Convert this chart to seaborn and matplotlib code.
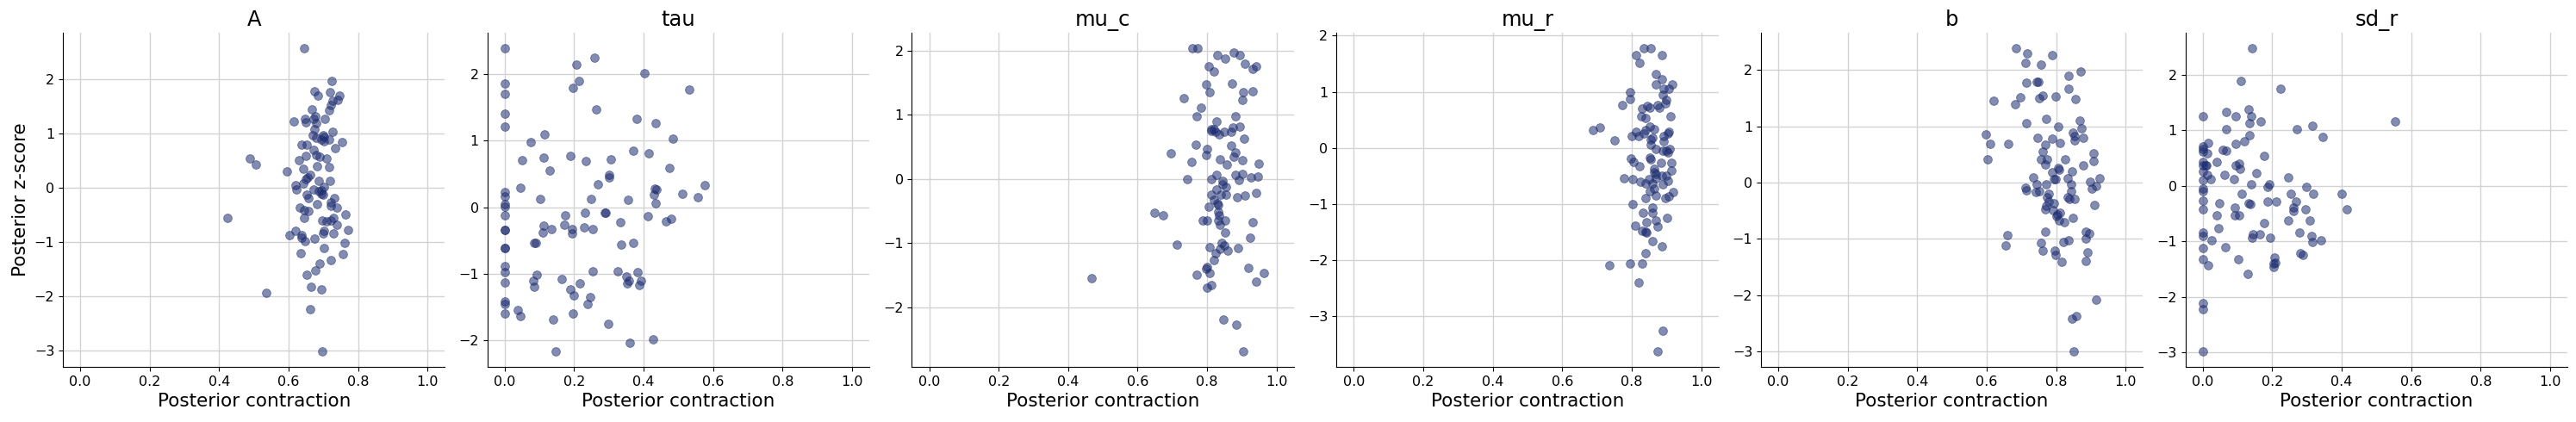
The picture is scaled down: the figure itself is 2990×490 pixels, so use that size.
import matplotlib
matplotlib.use("Agg")
import matplotlib.pyplot as plt
import seaborn as sns
import pandas as pd

# Parameter names (one panel each)
params = ["A", "tau", "mu_c", "mu_r", "b", "sd_r"]

# Posterior contraction / z-score, one pair of lists per parameter
A_contraction = [
    0.645, 0.724, 0.674, 0.684, 0.719, 0.746, 0.742, 0.726, 0.721, 0.667,
    0.716, 0.646, 0.678, 0.671, 0.703, 0.615, 0.650, 0.679, 0.674, 0.726,
    0.669, 0.698, 0.702, 0.679, 0.693, 0.717, 0.701, 0.753, 0.636, 0.653,
    0.672, 0.733, 0.680, 0.650, 0.688, 0.708, 0.488, 0.506, 0.630, 0.682,
    0.717, 0.642, 0.594, 0.662, 0.655, 0.650, 0.686, 0.719, 0.642, 0.620,
    0.702, 0.623, 0.673, 0.687, 0.693, 0.695, 0.698, 0.652, 0.658, 0.731,
    0.721, 0.682, 0.722, 0.633, 0.739, 0.644, 0.657, 0.764, 0.645, 0.729,
    0.424, 0.697, 0.708, 0.721, 0.740, 0.771, 0.620, 0.702, 0.602, 0.637,
    0.698, 0.729, 0.636, 0.675, 0.647, 0.761, 0.702, 0.635, 0.756, 0.721,
    0.689, 0.677, 0.652, 0.664, 0.695, 0.536, 0.662, 0.697,
]
A_zscore = [
    2.57, 1.96, 1.77, 1.69, 1.76, 1.69, 1.61, 1.59, 1.52, 1.44,
    1.42, 1.27, 1.32, 1.27, 1.27, 1.21, 1.20, 1.18, 1.08, 1.02,
    0.96, 0.97, 0.94, 0.91, 0.89, 0.89, 0.85, 0.84, 0.79, 0.79,
    0.69, 0.72, 0.60, 0.59, 0.56, 0.54, 0.54, 0.43, 0.51, 0.40,
    0.37, 0.34, 0.30, 0.24, 0.19, 0.16, 0.13, 0.12, 0.08, 0.05,
    0.02, -0.03, -0.04, -0.06, -0.05, -0.11, -0.13, -0.13, -0.20, -0.20,
    -0.28, -0.31, -0.33, -0.37, -0.37, -0.42, -0.43, -0.49, -0.55, -0.55,
    -0.55, -0.61, -0.62, -0.61, -0.69, -0.78, -0.79, -0.80, -0.87, -0.87,
    -0.85, -0.85, -0.92, -0.94, -0.98, -1.02, -1.12, -1.20, -1.22, -1.34,
    -1.40, -1.53, -1.61, -1.82, -1.88, -1.93, -2.24, -3.02,
]

tau_contraction = [
    0.0, 0.0, 0.0, 0.0, 0.0, 0.0, 0.0, 0.0, 0.0, 0.0,
    0.0, 0.0, 0.0, 0.0, 0.0, 0.0, 0.0, 0.0, 0.0, 0.0,
    0.259, 0.206, 0.402, 0.214, 0.197, 0.532, 0.264, 0.381, 0.435, 0.114,
    0.483, 0.075, 0.371, 0.415, 0.189, 0.112, 0.050, 0.234, 0.306, 0.475,
    0.129, 0.301, 0.301, 0.575, 0.269, 0.045, 0.433, 0.438, 0.512, 0.430,
    0.555, 0.102, 0.249, 0.356, 0.435, 0.231, 0.288, 0.291, 0.174, 0.411,
    0.479, 0.463, 0.333, 0.172, 0.112, 0.229, 0.135, 0.194, 0.254, 0.109,
    0.194, 0.085, 0.090, 0.371, 0.336, 0.254, 0.326, 0.383, 0.092, 0.351,
    0.164, 0.393, 0.082, 0.358, 0.353, 0.216, 0.388, 0.085, 0.189, 0.199,
    0.246, 0.239, 0.037, 0.045, 0.197, 0.139, 0.299, 0.428, 0.361, 0.147,
]
tau_zscore = [
    2.39, 1.85, 1.70, 1.40, 1.21, 0.23, 0.16, 0.04, 0.01, -0.12,
    -0.34, -0.34, -0.62, -0.62, -0.89, -0.98, -1.13, -1.42, -1.45, -1.59,
    2.24, 2.14, 2.01, 1.89, 1.79, 1.76, 1.47, 1.32, 1.26, 1.09,
    1.03, 0.98, 0.85, 0.81, 0.77, 0.74, 0.71, 0.69, 0.72, 0.59,
    0.55, 0.49, 0.45, 0.33, 0.34, 0.29, 0.28, 0.27, 0.20, 0.19,
    0.15, 0.12, 0.12, 0.11, 0.06, -0.09, -0.09, -0.09, -0.12, -0.14,
    -0.18, -0.21, -0.22, -0.27, -0.28, -0.30, -0.33, -0.33, -0.33, -0.38,
    -0.40, -0.54, -0.53, -0.53, -0.56, -0.96, -0.96, -0.98, -1.02, -1.04,
    -1.08, -1.10, -1.11, -1.11, -1.14, -1.14, -1.17, -1.19, -1.24, -1.33,
    -1.35, -1.46, -1.55, -1.63, -1.59, -1.69, -1.75, -1.99, -2.04, -2.17,
]

mu_c_contraction = [
    0.757, 0.772, 0.830, 0.876, 0.893, 0.851, 0.908, 0.804, 0.941, 0.930,
    0.819, 0.797, 0.872, 0.806, 0.903, 0.930, 0.901, 0.733, 0.782, 0.881,
    0.769, 0.827, 0.894, 0.873, 0.813, 0.819, 0.811, 0.825, 0.849, 0.869,
    0.834, 0.906, 0.767, 0.868, 0.799, 0.696, 0.881, 0.797, 0.876, 0.836,
    0.901, 0.755, 0.856, 0.948, 0.827, 0.882, 0.902, 0.945, 0.927, 0.742,
    0.813, 0.845, 0.891, 0.844, 0.854, 0.826, 0.940, 0.813, 0.854, 0.839,
    0.887, 0.910, 0.819, 0.829, 0.831, 0.804, 0.648, 0.831, 0.672, 0.835,
    0.787, 0.799, 0.831, 0.851, 0.932, 0.836, 0.851, 0.923, 0.841, 0.714,
    0.849, 0.806, 0.888, 0.836, 0.859, 0.824, 0.819, 0.918, 0.799, 0.797,
    0.806, 0.769, 0.963, 0.467, 0.940, 0.811, 0.799, 0.846, 0.883, 0.903,
]
mu_c_zscore = [
    2.04, 2.04, 1.93, 1.97, 1.93, 1.88, 1.79, 1.75, 1.75, 1.71,
    1.67, 1.47, 1.49, 1.35, 1.35, 1.37, 1.23, 1.26, 1.11, 0.98,
    0.97, 0.90, 0.81, 0.80, 0.77, 0.78, 0.75, 0.73, 0.74, 0.74,
    0.69, 0.63, 0.54, 0.52, 0.46, 0.40, 0.41, 0.37, 0.35, 0.31,
    0.29, 0.27, 0.23, 0.24, 0.06, 0.07, 0.08, 0.04, 0.02, 0.00,
    0.00, -0.03, -0.01, -0.08, -0.13, -0.16, -0.22, -0.24, -0.24, -0.25,
    -0.28, -0.26, -0.33, -0.38, -0.40, -0.43, -0.52, -0.51, -0.56, -0.57,
    -0.65, -0.65, -0.64, -0.64, -0.68, -0.72, -0.83, -0.92, -0.99, -1.02,
    -1.03, -1.06, -1.07, -1.09, -1.11, -1.15, -1.27, -1.39, -1.37, -1.40,
    -1.46, -1.49, -1.46, -1.54, -1.60, -1.65, -1.69, -2.19, -2.27, -2.69,
]

mu_r_contraction = [
    0.834, 0.855, 0.812, 0.887, 0.822, 0.869, 0.887, 0.869, 0.916, 0.892,
    0.906, 0.795, 0.889, 0.795, 0.899, 0.897, 0.772, 0.874, 0.844, 0.852,
    0.829, 0.879, 0.827, 0.839, 0.911, 0.709, 0.688, 0.852, 0.864, 0.839,
    0.812, 0.906, 0.836, 0.904, 0.800, 0.820, 0.892, 0.861, 0.856, 0.750,
    0.892, 0.856, 0.869, 0.889, 0.899, 0.909, 0.904, 0.797, 0.852, 0.856,
    0.884, 0.806, 0.914, 0.822, 0.914, 0.866, 0.864, 0.871, 0.887, 0.899,
    0.777, 0.802, 0.849, 0.869, 0.825, 0.904, 0.839, 0.861, 0.889, 0.866,
    0.852, 0.920, 0.869, 0.897, 0.908, 0.839, 0.804, 0.861, 0.832, 0.861,
    0.901, 0.869, 0.842, 0.810, 0.874, 0.829, 0.839, 0.842, 0.861, 0.887,
    0.839, 0.795, 0.829, 0.735, 0.820, 0.889, 0.874,
]
mu_r_zscore = [
    1.78, 1.78, 1.65, 1.65, 1.51, 1.31, 1.23, 1.13, 1.13, 1.06,
    1.05, 1.00, 0.94, 0.87, 0.86, 0.79, 0.77, 0.77, 0.75, 0.71,
    0.70, 0.71, 0.57, 0.54, 0.56, 0.37, 0.32, 0.38, 0.34, 0.32,
    0.28, 0.28, 0.25, 0.25, 0.21, 0.21, 0.21, 0.18, 0.15, 0.14,
    0.12, 0.05, -0.02, -0.05, -0.05, -0.02, -0.08, -0.19, -0.17, -0.21,
    -0.26, -0.25, -0.26, -0.32, -0.40, -0.38, -0.43, -0.46, -0.49, -0.50,
    -0.54, -0.55, -0.55, -0.54, -0.60, -0.58, -0.64, -0.64, -0.65, -0.72,
    -0.77, -0.78, -0.85, -0.89, -0.87, -0.90, -1.00, -1.06, -1.15, -1.15,
    -1.24, -1.30, -1.33, -1.38, -1.40, -1.47, -1.49, -1.51, -1.66, -1.76,
    -1.87, -2.06, -2.06, -2.09, -2.39, -3.25, -3.63,
]

b_contraction = [
    0.685, 0.717, 0.789, 0.712, 0.757, 0.871, 0.836, 0.715, 0.744, 0.749,
    0.836, 0.697, 0.762, 0.752, 0.799, 0.856, 0.620, 0.682, 0.772, 0.868,
    0.715, 0.806, 0.873, 0.598, 0.849, 0.854, 0.747, 0.789, 0.878, 0.854,
    0.610, 0.663, 0.811, 0.769, 0.908, 0.762, 0.603, 0.757, 0.774, 0.826,
    0.908, 0.769, 0.878, 0.806, 0.809, 0.846, 0.789, 0.734, 0.834, 0.794,
    0.799, 0.926, 0.898, 0.744, 0.772, 0.844, 0.916, 0.712, 0.715, 0.903,
    0.742, 0.752, 0.844, 0.779, 0.834, 0.774, 0.839, 0.854, 0.779, 0.794,
    0.911, 0.772, 0.769, 0.792, 0.811, 0.804, 0.801, 0.849, 0.809, 0.824,
    0.769, 0.886, 0.896, 0.660, 0.886, 0.836, 0.821, 0.757, 0.655, 0.762,
    0.797, 0.891, 0.799, 0.816, 0.886, 0.916, 0.859, 0.846, 0.851,
]
b_zscore = [
    2.39, 2.30, 2.26, 2.13, 2.10, 1.97, 1.89, 1.77, 1.79, 1.79,
    1.66, 1.51, 1.54, 1.50, 1.53, 1.48, 1.45, 1.39, 1.13, 1.10,
    1.05, 0.99, 0.96, 0.85, 0.89, 0.82, 0.79, 0.78, 0.79, 0.75,
    0.69, 0.69, 0.70, 0.67, 0.52, 0.55, 0.41, 0.41, 0.41, 0.41,
    0.38, 0.32, 0.31, 0.26, 0.23, 0.20, 0.18, 0.09, 0.08, 0.06,
    0.06, 0.08, 0.02, -0.03, -0.03, -0.03, -0.06, -0.09, -0.14, -0.11,
    -0.17, -0.15, -0.15, -0.20, -0.26, -0.26, -0.29, -0.29, -0.34, -0.37,
    -0.40, -0.41, -0.47, -0.49, -0.53, -0.56, -0.60, -0.63, -0.67, -0.70,
    -0.87, -0.87, -0.90, -0.93, -0.99, -1.02, -1.05, -1.07, -1.11, -1.21,
    -1.21, -1.24, -1.28, -1.40, -1.39, -2.08, -2.37, -2.41, -3.00,
]

sd_r_contraction = [
    0.142, 0.109, 0.224, 0.132, 0.067, 0.0, 0.094, 0.139, 0.166, 0.554,
    0.134, 0.315, 0.067, 0.271, 0.134, 0.345, 0.119, 0.015, 0.094, 0.0,
    0.0, 0.0, 0.057, 0.067, 0.012, 0.176, 0.040, 0.0, 0.0, 0.007,
    0.010, 0.104, 0.094, 0.107, 0.0, 0.012, 0.062, 0.154, 0.246, 0.022,
    0.0, 0.089, 0.139, 0.191, 0.186, 0.298, 0.0, 0.0, 0.253, 0.318,
    0.401, 0.112, 0.0, 0.268, 0.211, 0.186, 0.047, 0.132, 0.137, 0.261,
    0.415, 0.0, 0.092, 0.296, 0.261, 0.040, 0.092, 0.104, 0.246, 0.308,
    0.176, 0.045, 0.0, 0.278, 0.164, 0.144, 0.0, 0.142, 0.313, 0.194,
    0.025, 0.340, 0.315, 0.065, 0.0, 0.281, 0.288, 0.206, 0.0, 0.102,
    0.209, 0.204, 0.204, 0.015, 0.129, 0.0, 0.0, 0.0,
]
sd_r_zscore = [
    2.48, 1.89, 1.75, 1.38, 1.33, 1.25, 1.25, 1.25, 1.16, 1.15,
    1.13, 1.08, 1.01, 1.01, 0.91, 0.88, 0.80, 0.77, 0.76, 0.70,
    0.66, 0.62, 0.65, 0.63, 0.59, 0.54, 0.43, 0.42, 0.37, 0.36,
    0.36, 0.40, 0.36, 0.31, 0.25, 0.20, 0.20, 0.23, 0.15, 0.12,
    0.10, 0.11, 0.03, 0.03, -0.02, -0.02, -0.05, -0.10, -0.14, -0.15,
    -0.15, -0.15, -0.27, -0.28, -0.28, -0.29, -0.31, -0.31, -0.33, -0.39,
    -0.42, -0.43, -0.40, -0.43, -0.46, -0.54, -0.53, -0.53, -0.62, -0.63,
    -0.67, -0.76, -0.84, -0.85, -0.87, -0.88, -0.91, -0.93, -0.91, -0.94,
    -0.98, -0.98, -1.01, -1.10, -1.13, -1.22, -1.25, -1.30, -1.32, -1.33,
    -1.38, -1.41, -1.46, -1.44, -1.59, -2.12, -2.23, -2.99,
]

contraction = [A_contraction, tau_contraction, mu_c_contraction,
               mu_r_contraction, b_contraction, sd_r_contraction]
zscore = [A_zscore, tau_zscore, mu_c_zscore,
          mu_r_zscore, b_zscore, sd_r_zscore]

point_color = "#1c2c70"

fig, axes = plt.subplots(1, 6, figsize=(29.9, 4.9), dpi=100, sharex=True)
fig.subplots_adjust(left=0.0244, right=0.9967, top=0.9224, bottom=0.1306, wspace=0.111)

for ax, name, xs, ys in zip(axes, params, contraction, zscore):
    df = pd.DataFrame({"contraction": xs, "z": ys})
    sns.scatterplot(data=df, x="contraction", y="z", ax=ax, color=point_color,
                    alpha=0.55, s=50, edgecolor=point_color, linewidth=0.6, zorder=3)
    ax.set_title(name, fontsize=17.5)
    ax.set_xlabel("Posterior contraction", fontsize=15.5)
    ax.set_ylabel("")
    ax.set_xlim(-0.05, 1.05)
    ax.grid(True, color="#d3d3d3", linewidth=1.0, zorder=0)
    ax.set_axisbelow(True)
    ax.tick_params(labelsize=11.5)
    ax.set_xticks([0.0, 0.2, 0.4, 0.6, 0.8, 1.0])
    sns.despine(ax=ax)

axes[0].set_ylabel("Posterior z-score", fontsize=15.5)

plt.savefig("out.png", dpi=100)
